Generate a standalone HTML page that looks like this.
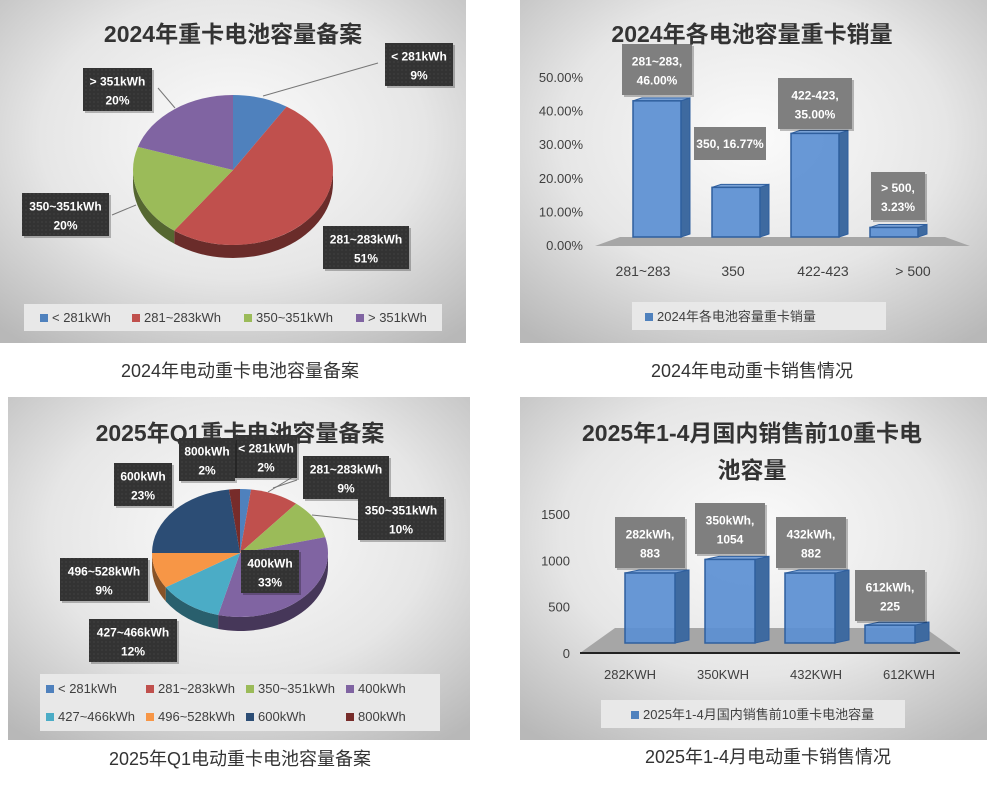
<!DOCTYPE html>
<html><head><meta charset="utf-8"><style>
body{margin:0;background:#fff;width:1000px;height:781px;overflow:hidden}
svg text{font-family:"Liberation Sans","Noto Sans CJK SC",sans-serif}
</style></head><body>
<svg id="s" width="1000" height="781" viewBox="0 0 1000 781" xmlns="http://www.w3.org/2000/svg">
<defs>
<radialGradient id="bg" cx="50%" cy="40%" r="75%"><stop offset="0" stop-color="#fbfbfb"/><stop offset="0.55" stop-color="#e6e6e6"/><stop offset="1" stop-color="#b8b8b8"/></radialGradient>
<pattern id="dots" width="4" height="4" patternUnits="userSpaceOnUse"><rect width="4" height="4" fill="#333"/><circle cx="2" cy="2" r="0.6" fill="#4a4a4a"/></pattern>
</defs>
<rect x="0" y="0" width="466" height="343" fill="url(#bg)"/>
<rect x="520" y="0" width="467" height="343" fill="url(#bg)"/>
<rect x="8" y="397" width="462" height="343" fill="url(#bg)"/>
<rect x="520" y="397" width="467" height="343" fill="url(#bg)"/>
<g id="g"></g>
<g font-size="18" fill="#333" text-anchor="middle">
<text x="240" y="377">2024年电动重卡电池容量备案</text>
<text x="752" y="377">2024年电动重卡销售情况</text>
<text x="240" y="765">2025年Q1电动重卡电池容量备案</text>
<text x="768" y="763">2025年1-4月电动重卡销售情况</text>
</g>
<g font-size="23" font-weight="bold" fill="#333" text-anchor="middle">
<text x="233" y="42">2024年重卡电池容量备案</text>
<text x="752" y="42">2024年各电池容量重卡销量</text>
<text x="240" y="441">2025年Q1重卡电池容量备案</text>
<text x="752" y="441">2025年1-4月国内销售前10重卡电</text>
<text x="752" y="478">池容量</text>
</g>
</svg>
<script>
// Chart 1 data
const pie1Labels=["< 281kWh","281~283kWh","350~351kWh","> 351kWh"];
const pie1Values=[9,51,20,20];
const pie1Colors=["#4f81bd","#c0504d","#9bbb59","#8064a2"];
// Chart 3 data
const pie3Labels=["< 281kWh","281~283kWh","350~351kWh","400kWh","427~466kWh","496~528kWh","600kWh","800kWh"];
const pie3Values=[2,9,10,33,12,9,23,2];
const pie3Colors=["#4f81bd","#c0504d","#9bbb59","#8064a2","#4bacc6","#f79646","#2c4d75","#772c2a"];
// Chart 2 data
const bar2Cats=["281~283","350","422-423","> 500"];
const bar2Values=[46.00,16.77,35.00,3.23];
const bar2Ticks=["0.00%","10.00%","20.00%","30.00%","40.00%","50.00%"];
// Chart 4 data
const bar4Cats=["282KWH","350KWH","432KWH","612KWH"];
const bar4Names=["282kWh","350kWh","432kWh","612kWh"];
const bar4Values=[883,1054,882,225];
const bar4Ticks=[0,500,1000,1500];

const NS="http://www.w3.org/2000/svg",G=document.getElementById('g');
function mk(t,a,p){const e=document.createElementNS(NS,t);for(const k in a)e.setAttribute(k,a[k]);(p||G).appendChild(e);return e;}
function dark(c,f){const n=parseInt(c.slice(1),16);const r=Math.round((n>>16)*f),g=Math.round(((n>>8)&255)*f),b=Math.round((n&255)*f);return `rgb(${r},${g},${b})`;}
function label(x,y,w,h,l1,l2,name,fill){const g=mk('g',{});
 mk('rect',{x:x+2,y:y+2,width:w,height:h,fill:'rgba(0,0,0,0.25)'},g);
 mk('rect',{x,y,width:w,height:h,fill:fill||'url(#dots)'},g);
 let t=mk('text',{x:x+w/2,y:y+h/2-4,'font-size':12,'font-weight':'bold',fill:'#fff','text-anchor':'middle'},g);t.textContent=l1;
 t=mk('text',{x:x+w/2,y:y+h/2+15,'font-size':12,'font-weight':'bold',fill:'#fff','text-anchor':'middle'},g);t.textContent=l2;}
function pie(vals,cols,cx,cy,rx,ry,d,name){const tot=vals.reduce((a,b)=>a+b,0);let a=0;const P=(an,dy)=>[cx+rx*Math.sin(an),cy+dy-ry*Math.cos(an)];
 const sl=[];vals.forEach((v,i)=>{const a0=a,a1=a+v/tot*2*Math.PI;a=a1;sl.push([a0,a1,i]);});
 sl.forEach(([a0,a1,i])=>{let s=Math.max(a0,Math.PI/2),e=Math.min(a1,1.5*Math.PI);if(e<=s)return;
  const p0=P(s,0),p1=P(e,0),q1=P(e,d),q0=P(s,d);
  const el=mk('path',{d:`M${p0}A${rx},${ry} 0 0 1 ${p1}L${q1}A${rx},${ry} 0 0 0 ${q0}Z`,fill:dark(cols[i],0.55)});
  });
 sl.forEach(([a0,a1,i])=>{const p0=P(a0,0),p1=P(a1,0);const big=(a1-a0)>Math.PI?1:0;
  const el=mk('path',{d:`M${cx},${cy}L${p0}A${rx},${ry} 0 ${big} 1 ${p1}Z`,fill:cols[i]});
  });}
function legend(items,cols,pos,name){items.forEach((t,i)=>{const [x,y]=pos[i];const g=mk('g',{});
 mk('rect',{x,y:y-8,width:8,height:8,fill:cols[i]},g);const e=mk('text',{x:x+12,y:y,'font-size':13,fill:'#404040'},g);e.textContent=t;});}

// Chart 1
pie(pie1Values,pie1Colors,233,170,100,75,13,'pie1');
[[[263,96],[378,63]],[[175,108],[158,88]],[[136,205],[112,215]]].forEach(p=>{const l=mk('polyline',{points:p.join(' '),fill:'none',stroke:'#777','stroke-width':1});});
const l1pos=[[385,43,68,43],[323,226,86,43],[22,193,87,43],[83,68,69,43]];
pie1Values.forEach((v,i)=>{const p=l1pos[i];label(p[0],p[1],p[2],p[3],pie1Labels[i],v+'%','pie1-label-'+i);});
mk('rect',{x:24,y:304,width:418,height:27,fill:'#e8e8e8'});
legend(pie1Labels,pie1Colors,[[40,322],[132,322],[244,322],[356,322]],'pie1-legend-entry');

// Chart 3
pie(pie3Values,pie3Colors,240,553,88,64,14,'pie3');
[[[268,492],[296,475]],[[273,488],[297,480]],[[312,515],[360,520]]].forEach(p=>{const l=mk('polyline',{points:p.join(' '),fill:'none',stroke:'#777'});});
const l3pos=[[235,435,62,43],[303,456,86,43],[358,497,86,43],[241,550,58,43],[89,619,88,43],[60,558,88,43],[114,463,58,43],[179,438,56,43]];
pie3Values.forEach((v,i)=>{const p=l3pos[i];label(p[0],p[1],p[2],p[3],pie3Labels[i],v+'%','pie3-label-'+i);});
mk('rect',{x:40,y:674,width:400,height:57,fill:'#e8e8e8'});
legend(pie3Labels,pie3Colors,[[46,693],[146,693],[246,693],[346,693],[46,721],[146,721],[246,721],[346,721]],'pie3-legend-entry');

// bar helper
function bars(vals,cx0,step,w,base,k,name,dep){vals.forEach((v,i)=>{const x=cx0+i*step-w/2,h=v*k,y=base-h;const g=mk('g',{});
 mk('path',{d:`M${x+w},${y}l${dep},-3v${h}l${-dep},3Z`,fill:'#3e6aa0',stroke:'#2f5f9e','stroke-width':1},g);
 mk('path',{d:`M${x},${y}l${dep},-3h${w}l${-dep},3Z`,fill:'#7aa2d6',stroke:'#2f5f9e'},g);
 mk('rect',{x,y,width:w,height:h,fill:'#5b8fd2','fill-opacity':0.92,stroke:'#2f5f9e','stroke-width':1.5},g);});}

// Chart 2
mk('path',{d:'M620,237L595,246H970L945,237Z',fill:'#a6a6a6'});
bar2Ticks.forEach((t,i)=>{const e=mk('text',{x:583,y:250-i*33.6,'font-size':13,fill:'#404040','text-anchor':'end'});e.textContent=t;});
const k2=2.96;
bars(bar2Values,657,79,48,237,k2,'bar2-bar',9);
bar2Cats.forEach((c,i)=>{const e=mk('text',{x:643+i*90,y:276,'font-size':14,fill:'#404040','text-anchor':'middle'});e.textContent=c;});
const l2pos=[[622,44,70,51],[694,127,72,33],[778,78,74,51],[871,172,54,48]];
bar2Values.forEach((v,i)=>{const p=l2pos[i];const s=v.toFixed(2)+'%';
 if(i==1){const g=mk('g',{});mk('rect',{x:p[0],y:p[1],width:p[2],height:p[3],fill:'#7f7f7f'},g);const t=mk('text',{x:p[0]+p[2]/2,y:p[1]+21,'font-size':12,'font-weight':'bold',fill:'#fff','text-anchor':'middle'},g);t.textContent=bar2Cats[1]+', '+s;}
 else label(p[0],p[1],p[2],p[3],bar2Cats[i]+',',s,'bar2-label-'+i,'#7f7f7f');});
mk('rect',{x:632,y:302,width:254,height:28,fill:'#e8e8e8'});
legend(["2024年各电池容量重卡销量"],["#4f81bd"],[[645,321]],'bar2-legend-entry');

// Chart 4
mk('path',{d:'M615,628L580,653H960L925,628Z',fill:'#a6a6a6'});
mk('line',{x1:580,y1:653,x2:960,y2:653,stroke:'#222','stroke-width':2});
bar4Ticks.forEach(t=>{const e=mk('text',{x:570,y:658-t*0.0927,'font-size':13,fill:'#404040','text-anchor':'end'});e.textContent=t;});
bars(bar4Values,650,80,50,643,0.0793,'bar4-bar',14);
bar4Cats.forEach((c,i)=>{const e=mk('text',{x:630+i*93,y:679,'font-size':13,fill:'#404040','text-anchor':'middle'});e.textContent=c;});
const l4pos=[[615,517,70,51],[695,503,70,51],[776,517,70,51],[855,570,70,51]];
bar4Values.forEach((v,i)=>{const p=l4pos[i];label(p[0],p[1],p[2],p[3],bar4Names[i]+',',String(v),'bar4-label-'+i,'#7f7f7f');});
mk('rect',{x:601,y:700,width:304,height:28,fill:'#e8e8e8'});
legend(["2025年1-4月国内销售前10重卡电池容量"],["#4f81bd"],[[631,719]],'bar4-legend-entry');
</script>
</body></html>
